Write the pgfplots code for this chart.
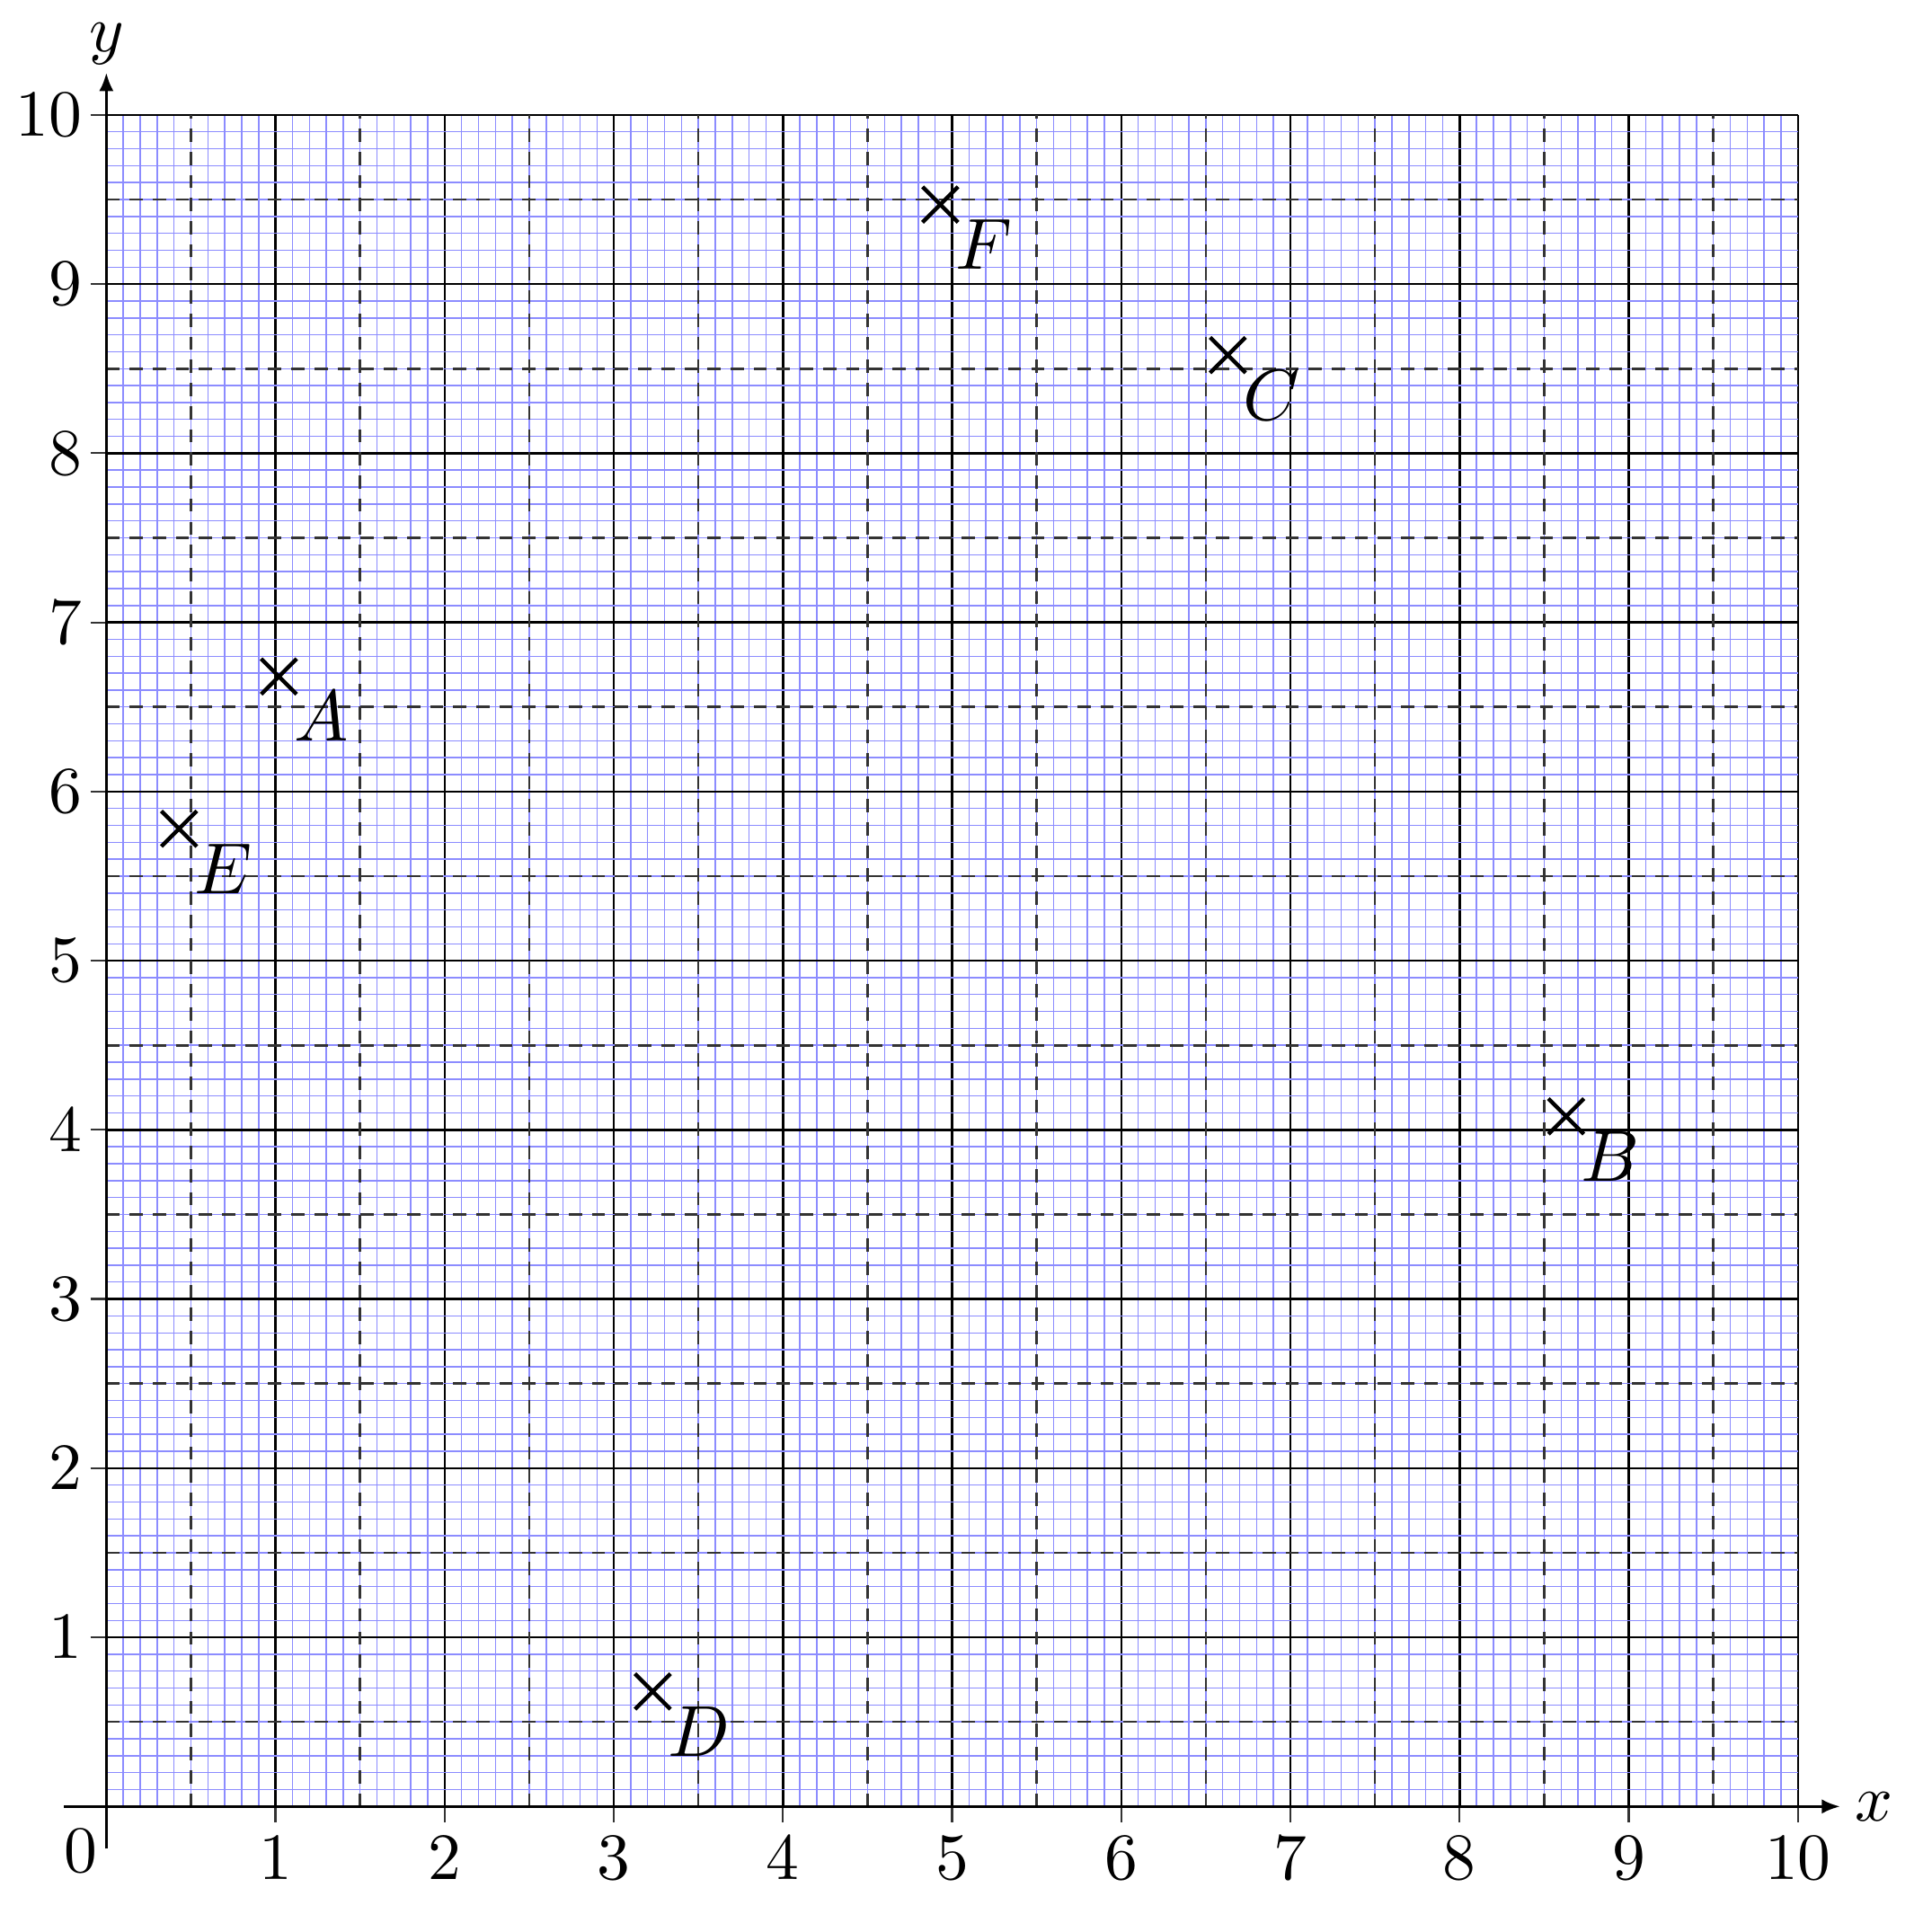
\documentclass[border=0pt]{standalone}
\usepackage{pgfplots}
\pgfplotsset{compat=1.18}
\usetikzlibrary{arrows.meta}
\begin{document}
\begin{tikzpicture}
\begin{axis}[
  x=0.9cm, y=0.9cm,
  xmin=0, xmax=10, ymin=0, ymax=10,
  axis lines=middle,
  axis line style={-, line width=0.45pt},
  clip=false,
  xtick={1,...,10}, ytick={1,...,10},
  minor xtick={0,0.1,...,10}, minor ytick={0,0.1,...,10},
  minor tick length=0pt,
  major tick length=2.4pt,
  tick align=outside,
  tick style={black!80, line width=0.3pt},
  xticklabel style={yshift=1.3pt},
  yticklabel style={xshift=2.2pt},
  grid=both,
  minor grid style={blue!45, line width=0.2pt},
  major grid style={black, line width=0.35pt},
  extra x ticks={0.5,1.5,...,9.5},
  extra y ticks={0.5,1.5,...,9.5},
  extra x tick labels={}, extra y tick labels={},
  extra tick style={grid=major, major tick length=0pt,
    major grid style={black!80, line width=0.35pt, dash pattern=on 2pt off 1.5pt}},
]
\addplot[only marks, mark=x, mark size=3.8pt, mark options={line width=0.6pt},
  nodes near coords, point meta=explicit symbolic,
  nodes near coords style={anchor=north west, inner sep=2pt, font=\fontsize{11}{13}\selectfont}]
  table[meta=label] {
x y label
1.02 6.68 $A$
8.63 4.08 $B$
6.63 8.58 $C$
3.23 0.68 $D$
0.43 5.78 $E$
4.93 9.47 $F$
};
\draw[line width=0.45pt, -{Latex[length=2.8pt,width=2.2pt]}] (axis cs:-0.25,0) -- (axis cs:10.25,0);
\draw[line width=0.45pt, -{Latex[length=2.8pt,width=2.2pt]}] (axis cs:0,-0.25) -- (axis cs:0,10.25);
\node[anchor=west, inner sep=2pt] at (axis cs:10.25,0) {$x$};
\node[anchor=south, inner sep=1pt] at (axis cs:0,10.25) {$y$};
\node[anchor=north east, inner sep=0pt, xshift=-1.2pt, yshift=-3.3pt] at (axis cs:0,0) {$0$};
\coordinate (O) at (axis cs:0,0);
\coordinate (T) at (axis cs:10,10);
\end{axis}
\pgfresetboundingbox
\path ([shift={(-16.1pt,-18.95pt)}]O) rectangle ([shift={(20.3pt,17.4pt)}]T);
\end{tikzpicture}
\end{document}
